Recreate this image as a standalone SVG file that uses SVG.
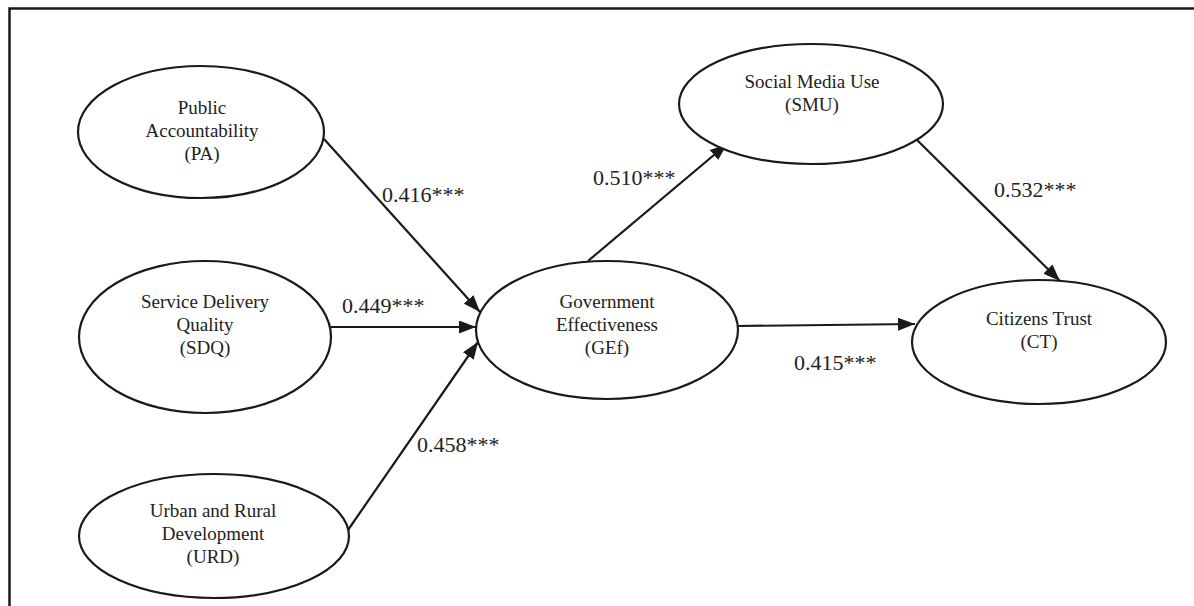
<svg xmlns="http://www.w3.org/2000/svg" width="1194" height="606" viewBox="0 0 1194 606">
<style>
.node ellipse{fill:#fff;stroke:#1a1a1a;stroke-width:2.2}
.node text{font-family:"Liberation Serif","Times New Roman",serif;font-size:19px;fill:#222;text-anchor:middle}
.lbl{font-family:"Liberation Serif","Times New Roman",serif;font-size:22px;fill:#222}
#connectors line{stroke:#1a1a1a;stroke-width:2.2;marker-end:url(#arr)}
</style>
<defs>
<marker id="arr" viewBox="0 0 17 13" refX="17" refY="6.5" markerWidth="17" markerHeight="13" markerUnits="userSpaceOnUse" orient="auto">
<path d="M0,0 L17,6.5 L0,13 z" fill="#1a1a1a"/>
</marker>
</defs>
<rect width="1194" height="606" fill="#fff"/>
<path d="M9.5,606 V8.5 H1194" fill="none" stroke="#1a1a1a" stroke-width="2.5"/>
<g id="connectors">
<line x1="324" y1="139" x2="480" y2="312"/>
<line x1="331" y1="327" x2="476" y2="327"/>
<line x1="348" y1="530" x2="478" y2="342"/>
<line x1="588" y1="261" x2="727" y2="144"/>
<line x1="917" y1="140" x2="1060" y2="281"/>
<line x1="738" y1="326" x2="915" y2="324"/>
</g>
<g id="labels">
<text class="lbl" x="382" y="202">0.416***</text>
<text class="lbl" x="342" y="313">0.449***</text>
<text class="lbl" x="417" y="452">0.458***</text>
<text class="lbl" x="593" y="185">0.510***</text>
<text class="lbl" x="994" y="197">0.532***</text>
<text class="lbl" x="794" y="370">0.415***</text>
</g>
<g id="PA" class="node">
<ellipse cx="201" cy="132" rx="123" ry="66"/>
<text x="202" y="114">Public</text>
<text x="202" y="137">Accountability</text>
<text x="202" y="160">(PA)</text>
</g>
<g id="SDQ" class="node">
<ellipse cx="205" cy="337" rx="126" ry="76"/>
<text x="205" y="308">Service Delivery</text>
<text x="205" y="331">Quality</text>
<text x="205" y="354">(SDQ)</text>
</g>
<g id="URD" class="node">
<ellipse cx="214" cy="536" rx="135" ry="62"/>
<text x="213" y="517">Urban and Rural</text>
<text x="213" y="540">Development</text>
<text x="213" y="563">(URD)</text>
</g>
<g id="GEf" class="node">
<ellipse cx="607" cy="330" rx="131" ry="69"/>
<text x="607" y="308">Government</text>
<text x="607" y="331">Effectiveness</text>
<text x="607" y="354">(GEf)</text>
</g>
<g id="SMU" class="node">
<ellipse cx="811" cy="104" rx="132" ry="60"/>
<text x="812" y="88">Social Media Use</text>
<text x="812" y="111">(SMU)</text>
</g>
<g id="CT" class="node">
<ellipse cx="1039" cy="342" rx="127" ry="62"/>
<text x="1039" y="325">Citizens Trust</text>
<text x="1039" y="348">(CT)</text>
</g>
</svg>
